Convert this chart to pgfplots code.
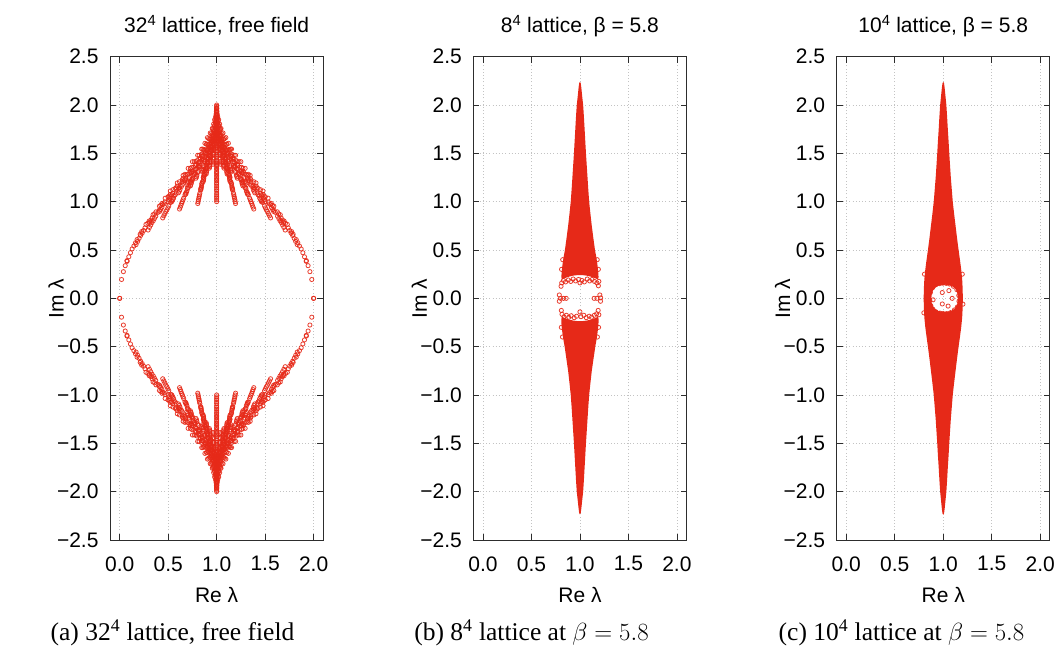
\documentclass[border=0pt]{standalone}
\usepackage{fontspec}
\newfontfamily\sans{Liberation Sans}
\newfontfamily\capserif{Liberation Serif}
\usepackage{pgfplots}
\usepackage{pgfplotstable}
\pgfplotsset{compat=1.18}
\definecolor{ered}{RGB}{230,41,24}
\definecolor{gridc}{RGB}{195,195,195}
\definecolor{framec}{RGB}{45,45,45}

% free-field eigenvalues: re, im, mirrored re (2-re), mirrored im (-im)
\pgfplotstableread{
re im rr imn
0.000 0.000 2.000 -0.000
0.019 0.195 1.981 -0.195
0.076 0.383 1.924 -0.383
0.169 0.556 1.831 -0.556
0.293 0.707 1.707 -0.707
0.444 0.832 1.556 -0.832
0.617 0.924 1.383 -0.924
0.805 0.981 1.195 -0.981
0.038 0.276 1.962 -0.276
0.094 0.430 1.906 -0.430
0.185 0.589 1.815 -0.589
0.307 0.734 1.693 -0.734
0.455 0.854 1.545 -0.854
0.625 0.944 1.375 -0.944
0.809 1.000 1.191 -1.000
0.146 0.541 1.854 -0.541
0.232 0.675 1.768 -0.675
0.347 0.804 1.653 -0.804
0.487 0.915 1.513 -0.915
0.646 1.000 1.354 -1.000
0.820 1.053 1.180 -1.053
0.309 0.786 1.691 -0.786
0.412 0.899 1.588 -0.899
0.538 1.000 1.462 -1.000
0.682 1.078 1.318 -1.078
0.838 1.127 1.162 -1.127
0.500 1.000 1.500 -1.000
0.607 1.092 1.393 -1.092
0.729 1.163 1.271 -1.163
0.862 1.209 1.138 -1.209
0.691 1.176 1.309 -1.176
0.787 1.243 1.213 -1.243
0.892 1.286 1.108 -1.286
0.854 1.307 1.146 -1.307
0.925 1.347 1.075 -1.347
0.962 1.387 1.038 -1.387
0.057 0.338 1.943 -0.338
0.111 0.472 1.889 -0.472
0.200 0.620 1.800 -0.620
0.320 0.759 1.680 -0.759
0.466 0.876 1.534 -0.876
0.632 0.964 1.368 -0.964
0.812 1.019 1.188 -1.019
0.163 0.575 1.837 -0.575
0.247 0.702 1.753 -0.702
0.359 0.827 1.641 -0.827
0.497 0.936 1.503 -0.936
0.653 1.019 1.347 -1.019
0.823 1.071 1.177 -1.071
0.322 0.810 1.678 -0.810
0.423 0.920 1.577 -0.920
0.547 1.019 1.453 -1.019
0.688 1.096 1.312 -1.096
0.841 1.144 1.159 -1.144
0.510 1.019 1.490 -1.019
0.615 1.109 1.385 -1.109
0.735 1.180 1.265 -1.180
0.865 1.225 1.135 -1.225
0.697 1.192 1.303 -1.192
0.792 1.258 1.208 -1.258
0.894 1.301 1.106 -1.301
0.856 1.321 1.144 -1.321
0.927 1.362 1.073 -1.362
0.963 1.401 1.037 -1.401
0.211 0.663 1.789 -0.663
0.290 0.776 1.710 -0.776
0.396 0.890 1.604 -0.890
0.526 0.992 1.474 -0.992
0.673 1.071 1.327 -1.071
0.834 1.120 1.166 -1.120
0.361 0.874 1.639 -0.874
0.457 0.977 1.543 -0.977
0.573 1.071 1.427 -1.071
0.706 1.144 1.294 -1.144
0.850 1.190 1.150 -1.190
0.538 1.071 1.462 -1.071
0.637 1.157 1.363 -1.157
0.750 1.225 1.250 -1.225
0.873 1.268 1.127 -1.268
0.715 1.237 1.285 -1.237
0.804 1.301 1.196 -1.301
0.900 1.342 1.100 -1.342
0.865 1.361 1.135 -1.361
0.931 1.401 1.069 -1.401
0.965 1.439 1.035 -1.439
0.425 0.962 1.575 -0.962
0.511 1.057 1.489 -1.057
0.616 1.144 1.384 -1.144
0.735 1.213 1.265 -1.213
0.865 1.257 1.135 -1.257
0.584 1.144 1.416 -1.144
0.673 1.225 1.327 -1.225
0.775 1.289 1.225 -1.289
0.885 1.331 1.115 -1.331
0.743 1.301 1.257 -1.301
0.823 1.362 1.177 -1.362
0.910 1.401 1.090 -1.401
0.878 1.420 1.122 -1.420
0.938 1.458 1.062 -1.458
0.968 1.494 1.032 -1.494
0.646 1.225 1.354 -1.225
0.722 1.301 1.278 -1.301
0.809 1.362 1.191 -1.362
0.902 1.401 1.098 -1.401
0.782 1.372 1.218 -1.372
0.850 1.430 1.150 -1.430
0.923 1.467 1.077 -1.467
0.897 1.486 1.103 -1.486
0.947 1.522 1.053 -1.522
0.973 1.557 1.027 -1.557
0.829 1.440 1.171 -1.440
0.882 1.495 1.118 -1.495
0.940 1.531 1.060 -1.531
0.919 1.549 1.081 -1.549
0.959 1.583 1.041 -1.583
0.979 1.617 1.021 -1.617
0.944 1.600 1.056 -1.600
0.971 1.634 1.029 -1.634
0.985 1.667 1.015 -1.667
0.993 1.699 1.007 -1.699
0.075 0.390 1.925 -0.390
0.128 0.511 1.872 -0.511
0.216 0.650 1.784 -0.650
0.333 0.784 1.667 -0.784
0.476 0.898 1.524 -0.898
0.639 0.984 1.361 -0.984
0.816 1.037 1.184 -1.037
0.179 0.608 1.821 -0.608
0.261 0.729 1.739 -0.729
0.372 0.850 1.628 -0.850
0.506 0.956 1.494 -0.956
0.660 1.037 1.340 -1.037
0.827 1.088 1.173 -1.088
0.335 0.833 1.665 -0.833
0.435 0.941 1.565 -0.941
0.556 1.037 1.444 -1.037
0.694 1.113 1.306 -1.113
0.844 1.161 1.156 -1.161
0.519 1.037 1.481 -1.037
0.622 1.126 1.378 -1.126
0.740 1.196 1.260 -1.196
0.867 1.240 1.133 -1.240
0.703 1.208 1.297 -1.208
0.796 1.273 1.204 -1.273
0.896 1.315 1.104 -1.315
0.859 1.335 1.141 -1.335
0.928 1.375 1.072 -1.375
0.963 1.414 1.037 -1.414
0.227 0.691 1.773 -0.691
0.304 0.800 1.696 -0.800
0.408 0.912 1.592 -0.912
0.535 1.011 1.465 -1.011
0.680 1.088 1.320 -1.088
0.837 1.137 1.163 -1.137
0.374 0.895 1.626 -0.895
0.467 0.997 1.533 -0.997
0.582 1.088 1.418 -1.088
0.712 1.161 1.288 -1.161
0.853 1.206 1.147 -1.206
0.547 1.088 1.453 -1.088
0.644 1.173 1.356 -1.173
0.755 1.240 1.245 -1.240
0.875 1.283 1.125 -1.283
0.720 1.252 1.280 -1.252
0.807 1.315 1.193 -1.315
0.902 1.356 1.098 -1.356
0.867 1.375 1.133 -1.375
0.932 1.414 1.068 -1.414
0.966 1.452 1.034 -1.452
0.436 0.982 1.564 -0.982
0.521 1.075 1.479 -1.075
0.623 1.161 1.377 -1.161
0.741 1.228 1.259 -1.228
0.868 1.272 1.132 -1.272
0.592 1.161 1.408 -1.161
0.680 1.240 1.320 -1.240
0.779 1.304 1.221 -1.304
0.888 1.345 1.112 -1.345
0.748 1.315 1.252 -1.315
0.827 1.375 1.173 -1.375
0.912 1.414 1.088 -1.414
0.881 1.433 1.119 -1.433
0.939 1.471 1.061 -1.471
0.969 1.507 1.031 -1.507
0.653 1.240 1.347 -1.240
0.728 1.315 1.272 -1.315
0.812 1.375 1.188 -1.375
0.904 1.414 1.096 -1.414
0.786 1.386 1.214 -1.386
0.853 1.443 1.147 -1.443
0.925 1.480 1.075 -1.480
0.899 1.498 1.101 -1.498
0.948 1.534 1.052 -1.534
0.974 1.569 1.026 -1.569
0.832 1.453 1.168 -1.453
0.884 1.508 1.116 -1.508
0.941 1.544 1.059 -1.544
0.920 1.561 1.080 -1.561
0.959 1.595 1.041 -1.595
0.979 1.629 1.021 -1.629
0.945 1.612 1.055 -1.612
0.972 1.645 1.028 -1.645
0.986 1.678 1.014 -1.678
0.993 1.710 1.007 -1.710
0.271 0.765 1.729 -0.765
0.344 0.865 1.656 -0.865
0.442 0.969 1.558 -0.969
0.562 1.063 1.438 -1.063
0.698 1.137 1.302 -1.137
0.846 1.184 1.154 -1.184
0.410 0.954 1.590 -0.954
0.498 1.050 1.502 -1.050
0.606 1.137 1.394 -1.137
0.728 1.206 1.272 -1.206
0.862 1.250 1.138 -1.250
0.573 1.137 1.427 -1.137
0.665 1.218 1.335 -1.218
0.769 1.283 1.231 -1.283
0.882 1.325 1.118 -1.325
0.737 1.295 1.263 -1.295
0.819 1.356 1.181 -1.356
0.908 1.395 1.092 -1.395
0.875 1.414 1.125 -1.414
0.936 1.452 1.064 -1.452
0.968 1.489 1.032 -1.489
0.469 1.036 1.531 -1.036
0.548 1.124 1.452 -1.124
0.645 1.206 1.355 -1.206
0.756 1.272 1.244 -1.272
0.875 1.314 1.125 -1.314
0.616 1.206 1.384 -1.206
0.698 1.283 1.302 -1.283
0.792 1.345 1.208 -1.345
0.894 1.385 1.106 -1.385
0.763 1.356 1.237 -1.356
0.837 1.414 1.163 -1.414
0.917 1.452 1.083 -1.452
0.888 1.470 1.112 -1.470
0.943 1.507 1.057 -1.507
0.971 1.542 1.029 -1.542
0.673 1.283 1.327 -1.283
0.743 1.356 1.257 -1.356
0.823 1.414 1.177 -1.414
0.910 1.452 1.090 -1.452
0.798 1.425 1.202 -1.425
0.861 1.480 1.139 -1.480
0.929 1.517 1.071 -1.517
0.904 1.534 1.096 -1.534
0.951 1.569 1.049 -1.569
0.975 1.603 1.025 -1.603
0.842 1.490 1.158 -1.490
0.891 1.544 1.109 -1.544
0.944 1.578 1.056 -1.578
0.925 1.595 1.075 -1.595
0.962 1.629 1.038 -1.629
0.980 1.662 1.020 -1.662
0.948 1.645 1.052 -1.645
0.974 1.678 1.026 -1.678
0.987 1.710 1.013 -1.710
0.993 1.741 1.007 -1.741
0.522 1.111 1.478 -1.111
0.594 1.194 1.406 -1.194
0.681 1.272 1.319 -1.272
0.780 1.334 1.220 -1.334
0.888 1.374 1.112 -1.374
0.654 1.272 1.346 -1.272
0.729 1.345 1.271 -1.345
0.813 1.404 1.187 -1.404
0.905 1.442 1.095 -1.442
0.787 1.414 1.213 -1.414
0.853 1.470 1.147 -1.470
0.925 1.507 1.075 -1.507
0.899 1.525 1.101 -1.525
0.948 1.560 1.052 -1.560
0.974 1.594 1.026 -1.594
0.706 1.345 1.294 -1.345
0.769 1.414 1.231 -1.414
0.841 1.471 1.159 -1.471
0.919 1.507 1.081 -1.507
0.819 1.480 1.181 -1.480
0.875 1.534 1.125 -1.534
0.936 1.569 1.064 -1.569
0.914 1.586 1.086 -1.586
0.956 1.620 1.044 -1.620
0.978 1.653 1.022 -1.653
0.857 1.544 1.143 -1.544
0.902 1.595 1.098 -1.595
0.950 1.629 1.050 -1.629
0.932 1.645 1.068 -1.645
0.966 1.678 1.034 -1.678
0.982 1.710 1.018 -1.710
0.953 1.694 1.047 -1.694
0.976 1.726 1.024 -1.726
0.988 1.757 1.012 -1.757
0.994 1.787 1.006 -1.787
0.750 1.414 1.250 -1.414
0.804 1.480 1.196 -1.480
0.865 1.534 1.135 -1.534
0.931 1.569 1.069 -1.569
0.846 1.544 1.154 -1.544
0.894 1.595 1.106 -1.595
0.946 1.629 1.054 -1.629
0.927 1.645 1.073 -1.645
0.963 1.678 1.037 -1.678
0.981 1.710 1.019 -1.710
0.879 1.604 1.121 -1.604
0.917 1.654 1.083 -1.654
0.957 1.687 1.043 -1.687
0.943 1.703 1.057 -1.703
0.971 1.734 1.029 -1.734
0.985 1.765 1.015 -1.765
0.960 1.750 1.040 -1.750
0.980 1.780 1.020 -1.780
0.990 1.810 1.010 -1.810
0.995 1.840 1.005 -1.840
0.905 1.663 1.095 -1.663
0.934 1.711 1.066 -1.711
0.967 1.742 1.033 -1.742
0.955 1.758 1.045 -1.758
0.977 1.788 1.023 -1.788
0.988 1.818 1.012 -1.818
0.969 1.803 1.031 -1.803
0.984 1.833 1.016 -1.833
0.992 1.863 1.008 -1.863
0.996 1.891 1.004 -1.891
0.979 1.848 1.021 -1.848
0.989 1.877 1.011 -1.877
0.994 1.906 1.006 -1.906
0.997 1.934 1.003 -1.934
0.999 1.962 1.001 -1.962
}\freefield

% eigenvalues on the line Re = 1
\pgfplotstableread{
re im imn
1.000 1.000 -1.000
1.000 1.019 -1.019
1.000 1.037 -1.037
1.000 1.053 -1.053
1.000 1.071 -1.071
1.000 1.088 -1.088
1.000 1.111 -1.111
1.000 1.127 -1.127
1.000 1.144 -1.144
1.000 1.161 -1.161
1.000 1.180 -1.180
1.000 1.194 -1.194
1.000 1.213 -1.213
1.000 1.225 -1.225
1.000 1.240 -1.240
1.000 1.257 -1.257
1.000 1.272 -1.272
1.000 1.289 -1.289
1.000 1.301 -1.301
1.000 1.315 -1.315
1.000 1.334 -1.334
1.000 1.345 -1.345
1.000 1.362 -1.362
1.000 1.375 -1.375
1.000 1.387 -1.387
1.000 1.401 -1.401
1.000 1.414 -1.414
1.000 1.433 -1.433
1.000 1.452 -1.452
1.000 1.470 -1.470
1.000 1.489 -1.489
1.000 1.507 -1.507
1.000 1.525 -1.525
1.000 1.544 -1.544
1.000 1.561 -1.561
1.000 1.578 -1.578
1.000 1.595 -1.595
1.000 1.612 -1.612
1.000 1.629 -1.629
1.000 1.645 -1.645
1.000 1.662 -1.662
1.000 1.678 -1.678
1.000 1.694 -1.694
1.000 1.710 -1.710
1.000 1.726 -1.726
1.000 1.741 -1.741
1.000 1.757 -1.757
1.000 1.772 -1.772
1.000 1.788 -1.788
1.000 1.803 -1.803
1.000 1.818 -1.818
1.000 1.833 -1.833
1.000 1.848 -1.848
1.000 1.863 -1.863
1.000 1.877 -1.877
1.000 1.891 -1.891
1.000 1.906 -1.906
1.000 1.920 -1.920
1.000 1.934 -1.934
1.000 1.947 -1.947
1.000 1.961 -1.961
1.000 1.974 -1.974
1.000 1.987 -1.987
1.000 2.000 -2.000
}\reone

\newcommand{\labfont}{\sans\fontsize{21bp}{25bp}\selectfont}
\newcommand{\capfont}{\capserif\fontsize{25.5bp}{30bp}\selectfont}

\pgfplotsset{
  evstyle/.style={
    scale only axis, width=213.3bp, height=483.3bp,
    xmin=-0.1, xmax=2.1, ymin=-2.5, ymax=2.5,
    xtick={0,0.5,1,1.5,2}, xticklabels={0.0,0.5,1.0,1.5,2.0},
    ytick={-2.5,-2,-1.5,-1,-0.5,0,0.5,1,1.5,2,2.5},
    yticklabels={−2.5,−2.0,−1.5,−1.0,−0.5,0.0,0.5,1.0,1.5,2.0,2.5},
    grid=major,
    grid style={gridc, line width=0.6bp, dash pattern=on 1bp off 2.2bp},
    axis line style={framec, line width=1bp},
    tick style={framec, line width=0.8bp},
    major tick length=6bp, tick align=inside,
    tick label style={font=\labfont},
    xticklabel style={yshift=-13bp},
    yticklabel style={xshift=-8bp},
    label style={font=\labfont},
    xlabel={Re λ}, ylabel={Im λ},
    xlabel style={at={(axis description cs:0.5,0)}, anchor=center, yshift=-55bp},
    ylabel style={at={(axis description cs:0,0.5)}, anchor=center, yshift=54bp},
    title style={font=\labfont, at={(axis description cs:0.5,1)}, anchor=base, yshift=18bp},
  },
  evmarks/.style={only marks, mark=o, mark size=2.1bp, ered,
    mark options={line width=0.8bp, draw opacity=0.9}},
  evfill/.style={fill=ered, draw=none, mark=none},
}

\begin{document}
\begin{tikzpicture}
\path[use as bounding box] (0bp,0bp) rectangle (1059bp,648bp);

% ---------------- (a) ----------------
\begin{axis}[evstyle, at={(110bp,108bp)}, anchor=south west,
  title={32\textsuperscript{4} lattice, free field}]
\addplot[evmarks] table[x=re, y=im] {\freefield};
\addplot[evmarks] table[x=re, y=imn] {\freefield};
\addplot[evmarks] table[x=rr, y=im] {\freefield};
\addplot[evmarks] table[x=rr, y=imn] {\freefield};
\addplot[evmarks] table[x=re, y=im] {\reone};
\addplot[evmarks] table[x=re, y=imn] {\reone};
\end{axis}

% ---------------- (b) ----------------
\begin{axis}[evstyle, at={(473.3bp,108bp)}, anchor=south west,
  title={8\textsuperscript{4} lattice, β = 5.8}]
\addplot[evfill] coordinates {
(1.000,2.240) (1.008,2.225) (1.014,2.180) (1.022,2.100) (1.033,2.000)
(1.041,1.875) (1.048,1.750) (1.055,1.625) (1.062,1.500) (1.070,1.375)
(1.078,1.250) (1.086,1.125) (1.095,1.000) (1.108,0.875) (1.122,0.750)
(1.138,0.625) (1.155,0.500) (1.170,0.420) (1.180,0.350) (1.188,0.280)
(1.192,0.220) (1.185,0.195) (1.165,0.205) (1.140,0.215) (1.110,0.225)
(1.070,0.235) (1.030,0.240) (1.000,0.240) (0.970,0.240) (0.930,0.235)
(0.890,0.225) (0.860,0.215) (0.835,0.205) (0.815,0.195) (0.808,0.220)
(0.812,0.280) (0.820,0.350) (0.830,0.420) (0.845,0.500) (0.862,0.625)
(0.878,0.750) (0.892,0.875) (0.905,1.000) (0.914,1.125) (0.922,1.250)
(0.930,1.375) (0.938,1.500) (0.945,1.625) (0.952,1.750) (0.959,1.875)
(0.967,2.000) (0.978,2.100) (0.986,2.180) (0.992,2.225)
};
\addplot[evfill] coordinates {
(1.000,-2.235) (1.008,-2.220) (1.014,-2.175) (1.022,-2.100) (1.033,-2.000)
(1.041,-1.875) (1.048,-1.750) (1.055,-1.625) (1.062,-1.500) (1.070,-1.375)
(1.078,-1.250) (1.086,-1.125) (1.095,-1.000) (1.108,-0.875) (1.122,-0.750)
(1.140,-0.625) (1.158,-0.500) (1.172,-0.420) (1.182,-0.350) (1.190,-0.280)
(1.193,-0.215) (1.185,-0.190) (1.165,-0.200) (1.140,-0.210) (1.110,-0.220)
(1.070,-0.230) (1.030,-0.235) (1.000,-0.235) (0.970,-0.235) (0.930,-0.230)
(0.890,-0.220) (0.860,-0.210) (0.835,-0.200) (0.815,-0.190) (0.808,-0.215)
(0.810,-0.280) (0.818,-0.350) (0.828,-0.420) (0.842,-0.500) (0.860,-0.625)
(0.878,-0.750) (0.892,-0.875) (0.905,-1.000) (0.914,-1.125) (0.922,-1.250)
(0.930,-1.375) (0.938,-1.500) (0.945,-1.625) (0.952,-1.750) (0.959,-1.875)
(0.967,-2.000) (0.978,-2.100) (0.986,-2.175) (0.992,-2.220)
};
\addplot[evmarks] coordinates {
(0.805,0.125) (0.812,0.160) (0.830,0.185) (0.852,0.170) (0.880,0.190)
(0.905,0.175) (0.930,0.200) (0.955,0.180) (0.985,0.195) (1.000,0.160)
(1.020,0.185) (1.045,0.170) (1.075,0.200) (1.100,0.180) (1.125,0.195)
(1.150,0.175) (1.175,0.160) (1.190,0.130) (1.195,0.175)
(0.808,-0.125) (0.815,-0.165) (0.835,-0.190) (0.860,-0.175) (0.885,-0.195)
(0.910,-0.180) (0.940,-0.200) (0.965,-0.185) (1.000,-0.140) (1.010,-0.190)
(1.040,-0.175) (1.065,-0.200) (1.095,-0.185) (1.120,-0.195) (1.148,-0.175)
(1.172,-0.160) (1.188,-0.125) (1.195,-0.170)
(0.787,0.035) (0.787,-0.030) (0.800,0.000) (0.830,0.000) (0.858,0.000)
(1.146,0.000) (1.175,0.000) (1.205,0.035) (1.212,-0.030) (1.214,0.005)
(0.810,0.300) (0.822,0.400) (1.190,0.300) (1.178,0.400)
(0.808,-0.300) (0.820,-0.400) (1.192,-0.300) (1.180,-0.400)
};
\end{axis}

% ---------------- (c) ----------------
\begin{axis}[evstyle, at={(836.6bp,108bp)}, anchor=south west,
  title={10\textsuperscript{4} lattice, β = 5.8}]
\addplot[evfill, even odd rule] coordinates {
(1.202,0.000) (1.200,0.100) (1.195,0.200) (1.185,0.300) (1.172,0.400)
(1.158,0.500) (1.142,0.625) (1.127,0.750) (1.112,0.875) (1.098,1.000)
(1.088,1.125) (1.078,1.250) (1.070,1.375) (1.062,1.500) (1.055,1.625)
(1.047,1.750) (1.040,1.875) (1.032,2.000) (1.022,2.100) (1.014,2.180)
(1.008,2.225) (1.000,2.240) (0.992,2.225) (0.986,2.180) (0.978,2.100)
(0.968,2.000) (0.960,1.875) (0.953,1.750) (0.945,1.625) (0.938,1.500)
(0.930,1.375) (0.922,1.250) (0.912,1.125) (0.902,1.000) (0.888,0.875)
(0.873,0.750) (0.858,0.625) (0.842,0.500) (0.828,0.400) (0.815,0.300)
(0.805,0.200) (0.800,0.100) (0.798,0.000) (0.800,-0.100) (0.805,-0.200)
(0.815,-0.300) (0.828,-0.400) (0.842,-0.500) (0.858,-0.625) (0.873,-0.750)
(0.888,-0.875) (0.902,-1.000) (0.912,-1.125) (0.922,-1.250) (0.930,-1.375)
(0.938,-1.500) (0.945,-1.625) (0.953,-1.750) (0.960,-1.875) (0.968,-2.000)
(0.978,-2.100) (0.986,-2.180) (0.992,-2.225) (1.000,-2.240) (1.008,-2.225)
(1.014,-2.180) (1.022,-2.100) (1.032,-2.000) (1.040,-1.875) (1.047,-1.750)
(1.055,-1.625) (1.062,-1.500) (1.070,-1.375) (1.078,-1.250) (1.088,-1.125)
(1.098,-1.000) (1.112,-0.875) (1.127,-0.750) (1.142,-0.625) (1.158,-0.500)
(1.172,-0.400) (1.185,-0.300) (1.195,-0.200) (1.200,-0.100) (1.202,0.000)
(1.150,0.000) (1.145,-0.055) (1.125,-0.100) (1.085,-0.130) (1.015,-0.142)
(0.945,-0.130) (0.905,-0.100) (0.882,-0.055) (0.877,0.000) (0.882,0.055)
(0.905,0.100) (0.945,0.130) (1.015,0.142) (1.085,0.130) (1.125,0.100)
(1.145,0.055) (1.150,0.000)
};
\addplot[evmarks] coordinates {
(0.868,0.060) (0.862,-0.020) (0.872,-0.075) (0.892,0.112) (0.925,0.142)
(0.960,0.152) (0.995,0.157) (1.030,0.155) (1.065,0.148) (1.105,0.125)
(1.140,0.090) (1.160,0.030) (1.162,-0.030) (1.145,-0.090) (1.115,-0.120)
(1.075,-0.148) (1.035,-0.158) (1.000,-0.157) (0.965,-0.152) (0.925,-0.140)
(0.893,-0.112)
(0.990,0.060) (1.058,0.080) (1.092,0.000) (0.990,-0.058) (1.050,-0.080) (0.895,-0.015)
(0.806,0.250) (1.196,0.250) (1.203,-0.060) (0.800,-0.150)
};
\end{axis}

% ---------------- sub-captions ----------------
\node[anchor=base, font=\capfont] at (172.5bp,8bp)
  {(a) 32\textsuperscript{4} lattice, free field};
\node[anchor=base, font=\capfont] at (531.5bp,8bp)
  {(b) 8\textsuperscript{4} lattice at $\beta = 5.8$};
\node[anchor=base, font=\capfont] at (901.5bp,8bp)
  {(c) 10\textsuperscript{4} lattice at $\beta = 5.8$};
\end{tikzpicture}
\end{document}
